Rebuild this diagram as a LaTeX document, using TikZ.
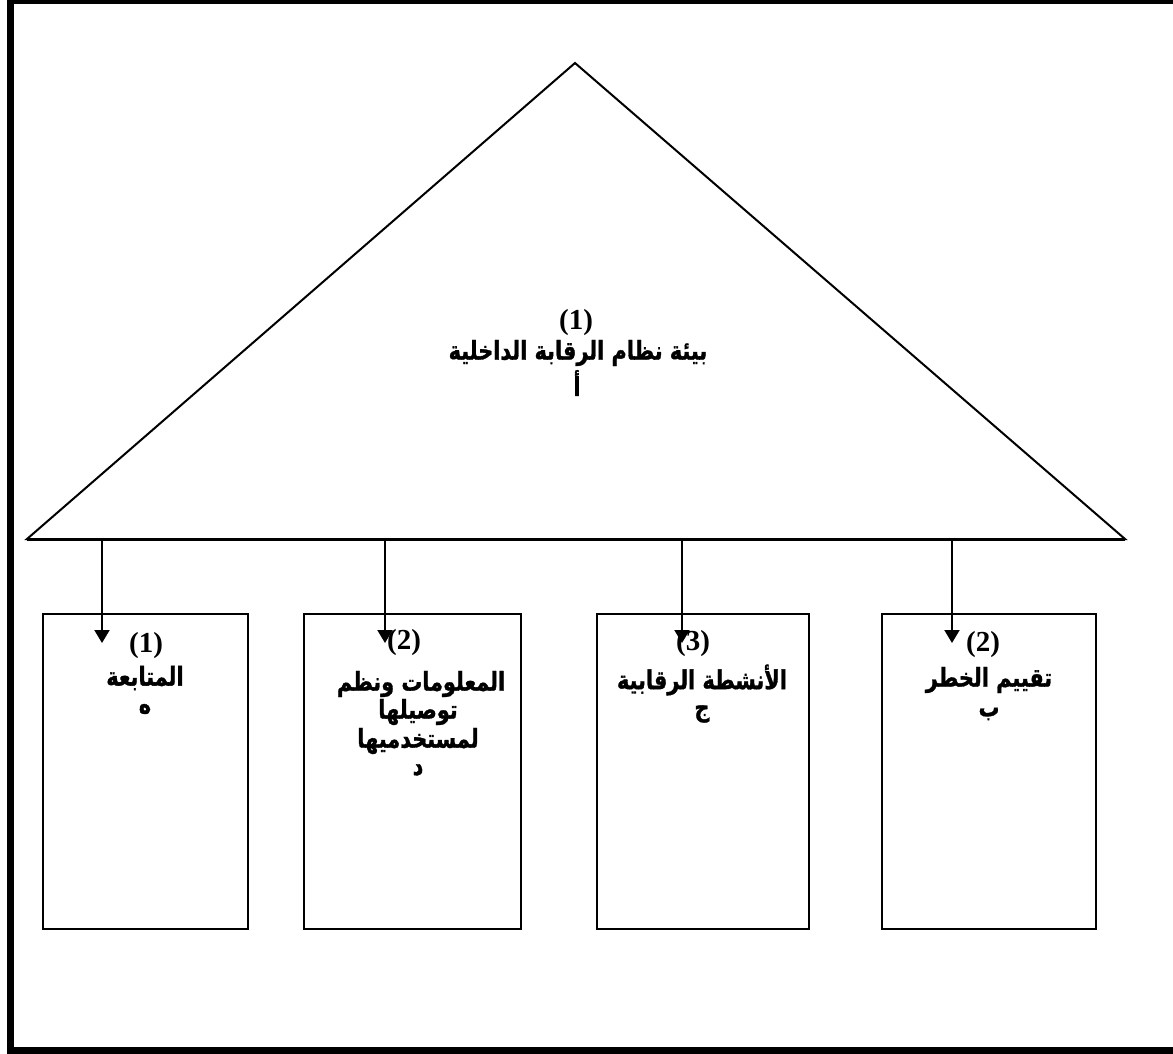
\documentclass[tikz,border=0pt]{standalone}
\usepackage{fontspec}
\usetikzlibrary{arrows.meta}
\TeXXeTstate=1
\newfontfamily\arabicfont[Script=Arabic, BoldFeatures={FakeStretch=0.8, FakeBold=1.2}]{DejaVu Sans}
\newfontfamily\numfont{Liberation Serif}
\begin{document}
\begin{tikzpicture}[x=1pt,y=-1pt,
  box/.style={draw, line width=2.5pt, inner sep=0pt, outer sep=0pt},
  num/.style={font=\numfont\bfseries\fontsize{29}{29}\selectfont, inner sep=0pt},
  ar/.style={font=\arabicfont\bfseries\fontsize{26}{26}\selectfont, inner sep=0pt},
  tri/.style={line width=2pt, line join=miter},
  arr/.style={line width=2pt, -{Triangle[length=13pt,width=15pt]}},
  frame/.style={line width=7pt}]
\useasboundingbox (0,0) rectangle (1173,1053);
% outer frame (right side outside the picture)
\draw[frame] (1173,0.5) -- (10.5,0.5) -- (10.5,1050.5) -- (1173,1050.5);
% triangle
\coordinate (apex) at (575,63);
\coordinate (bl) at (27,539);
\coordinate (br) at (1125,539);
\draw[tri] (bl) -- (apex) -- (br) -- cycle;
\draw[line width=1pt] ([yshift=-1.5pt]bl) -- ([yshift=-1.5pt]br);
\node[num] (tnum) at (576,323) {(1)};
\node[ar] (ttxt) at (578,353) {\beginR بيئة نظام الرقابة الداخلية\endR};
\node[ar] (tlet) at (577,383) {\beginR أ\endR};
% boxes
\node[box, minimum width=205pt, minimum height=315pt] (b1) at (145.5,771.5) {};
\node[box, minimum width=217pt, minimum height=315pt] (b2) at (412.5,771.5) {};
\node[box, minimum width=212pt, minimum height=315pt] (b3) at (703,771.5) {};
\node[box, minimum width=214pt, minimum height=315pt] (b4) at (989,771.5) {};
% arrows
\coordinate (s1) at (102,539); \coordinate (e1) at (102,643);
\coordinate (s2) at (385,539); \coordinate (e2) at (385,643);
\coordinate (s3) at (682,539); \coordinate (e3) at (682,643);
\coordinate (s4) at (952,539); \coordinate (e4) at (952,643);
\draw[arr] (s1) -- (e1);
\draw[arr] (s2) -- (e2);
\draw[arr] (s3) -- (e3);
\draw[arr] (s4) -- (e4);
% box 1
\node[num] (n1) at (146,646) {(1)};
\node[ar] (x1) at (145,678) {\beginR المتابعة\endR};
\node[ar] (l1) at (145,709) {\beginR ه\endR};
% box 2
\node[num] (n2) at (404,643) {(2)};
\node[ar] (x2a) at (421,684) {\beginR المعلومات ونظم\endR};
\node[ar] (x2b) at (418,712) {\beginR توصيلها\endR};
\node[ar] (x2c) at (418,741) {\beginR لمستخدميها\endR};
\node[ar] (l2) at (418,770) {\beginR د\endR};
% box 3
\node[num] (n3) at (693,644) {(3)};
\node[ar] (x3) at (702,680) {\beginR الأنشطة الرقابية\endR};
\node[ar] (l3) at (702,714) {\beginR ج\endR};
% box 4
\node[num] (n4) at (983,645) {(2)};
\node[ar] (x4) at (989,680) {\beginR تقييم الخطر\endR};
\node[ar] (l4) at (989,714) {\beginR ب\endR};
\end{tikzpicture}
\end{document}
